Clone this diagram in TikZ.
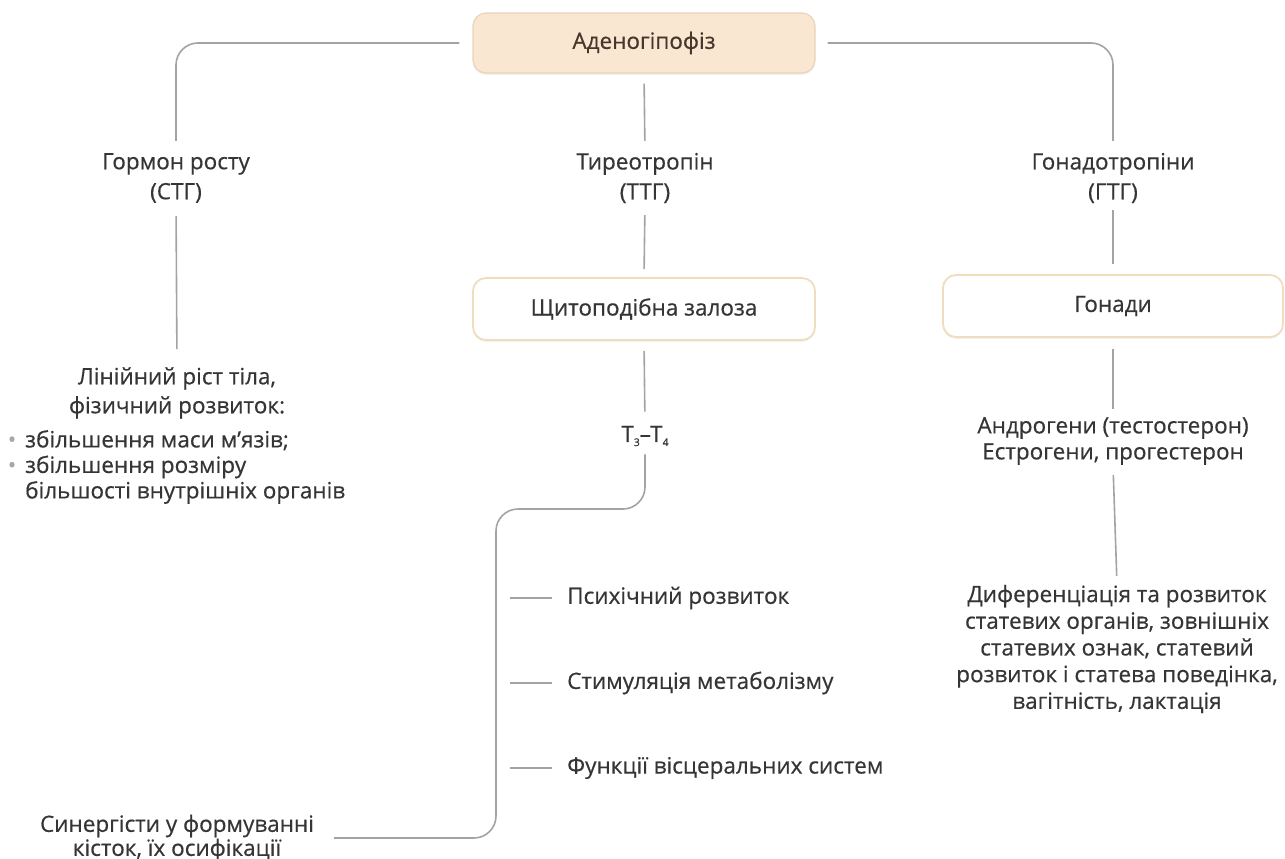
\documentclass[tikz,border=0pt]{standalone}
\usepackage{fontspec}
\setmainfont{Open Sans}[FakeBold=0.5]
\usetikzlibrary{shadows}
\definecolor{linegrey}{HTML}{A3A3A3}
\definecolor{txt}{HTML}{353535}
\definecolor{headtxt}{HTML}{45372B}
\definecolor{peach}{HTML}{FAE7D2}
\definecolor{peachedge}{HTML}{EAD4B8}
\definecolor{boxedge}{HTML}{F0DCBF}
\definecolor{bulletgrey}{HTML}{A8A8A8}

\begin{document}
\begin{tikzpicture}[x=1pt,y=-1pt,
  every node/.style={text=txt, font=\fontsize{22.5}{30}\selectfont},
  conn/.style={draw=linegrey, line width=1.6pt},
  corner/.style={rounded corners=22pt},
  mainbox/.style={rounded corners=13pt, fill=peach, draw=peachedge, line width=1.2pt,
    minimum width=342pt, minimum height=60pt, text=headtxt,
    drop shadow={opacity=0.12, shadow xshift=0pt, shadow yshift=-2pt}},
  organbox/.style={rounded corners=13pt, fill=white, draw=boxedge, line width=1.8pt,
    minimum height=62pt,
    drop shadow={opacity=0.10, shadow xshift=0pt, shadow yshift=-2pt}},
  lbl/.style={align=center, inner sep=0pt},
  effect/.style={anchor=west, inner sep=0pt},
  tick/.style={draw=linegrey, line width=1.4pt}
]
\useasboundingbox (0,0) rectangle (1285,859);

% ---- hierarchy of hormones ----
\node[mainbox] (adeno) at (644,43) {Аденогіпофіз};

\node[lbl] (gh)  at (176,178) {Гормон росту\\(СТГ)};
\node[lbl] (tsh) at (645,178) {Тиреотропін\\(ТТГ)};
\node[lbl] (gth) at (1113,178) {Гонадотропіни\\(ГТГ)};

\node[organbox, minimum width=342pt] (thyroid) at (644,309) {Щитоподібна залоза};
\node[organbox, minimum width=340pt] (gonads) at (1113,306) {Гонади};

% growth hormone effects
\node[lbl, font=\fontsize{22.5}{29}\selectfont] (ghfx) at (177,393)
  {Лінійний ріст тіла,\\фізичний розвиток:};
\node[anchor=west, align=left, inner sep=0pt, font=\fontsize{22.5}{25.5}\selectfont] (ghlist) at (25,467)
  {\llap{\textcolor{bulletgrey}{•}\hspace{9pt}}збільшення маси м’язів;\\
   \llap{\textcolor{bulletgrey}{•}\hspace{9pt}}збільшення розміру\\
   більшості внутрішніх органів};

% thyroid hormones
\node[lbl] (t34) at (645,436)
  {T\raisebox{-4pt}{\fontsize{10.5}{10.5}\selectfont 3}–T\raisebox{-4pt}{\fontsize{10.5}{10.5}\selectfont 4}};
\node[effect] (psych) at (567,598) {Психічний розвиток};
\node[effect] (metab) at (567,683) {Стимуляція метаболізму};
\node[effect] (visc)  at (567,768) {Функції вісцеральних систем};
\node[lbl, font=\fontsize{22.5}{24}\selectfont] (bones) at (177,838)
  {Синергісти у формуванні\\кісток, їх осифікації};
\coordinate (knee) at (496,509);

% sex hormones
\node[lbl, font=\fontsize{22.5}{26}\selectfont] (andro) at (1113,441)
  {Андрогени (тестостерон)\\Естрогени, прогестерон};
\node[lbl, font=\fontsize{22.5}{26.7}\selectfont] (diff) at (1117,649)
  {Диференціація та розвиток\\статевих органів, зовнішніх\\статевих ознак, статевий\\розвиток і статева поведінка,\\вагітність, лактація};

% ---- connectors ----
\draw[conn, corner, shorten <=13pt, shorten >=12pt] (adeno.west) -| (gh.north);
\draw[conn, corner, shorten <=12pt, shorten >=12pt] (adeno.east) -| (gth.north);
\draw[conn, shorten <=10pt, shorten >=12pt] (adeno.south) -- (tsh.north);

\draw[conn, shorten <=13pt, shorten >=18pt] (gh.south) -- (ghfx.north);

\draw[conn, shorten <=12pt, shorten >=8pt] (tsh.south) -- (thyroid.north);
\draw[conn, shorten <=10pt, shorten >=14pt] (thyroid.south) -- (t34.north);
\draw[conn, corner, shorten <=8pt, shorten >=20pt] (t34.south) |- (knee) |- (bones.east);

\draw[conn, shorten <=7pt, shorten >=10pt] (gth.south) -- (gonads.north);
\draw[conn, shorten <=11pt, shorten >=8pt] (gonads.south) -- (andro.north);
\draw[conn, shorten <=10pt, shorten >=9pt] (andro.south) -- (diff.north);

% short leaders in front of the thyroid effects
\foreach \e in {psych, metab, visc}
  \draw[tick] (\e.west) ++(-15,0) -- ++(-42,0);
\end{tikzpicture}
\end{document}
